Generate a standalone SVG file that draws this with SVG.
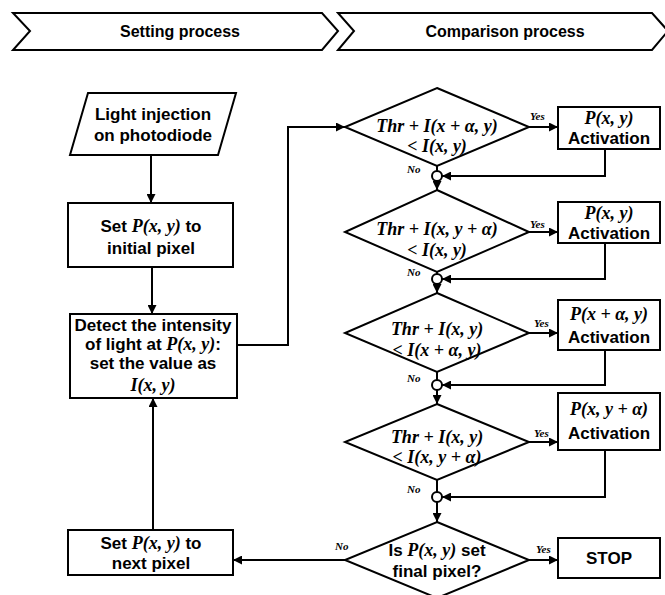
<svg xmlns="http://www.w3.org/2000/svg" width="665" height="595" viewBox="0 0 665 595">
<style>
.sh{fill:#fff;stroke:#000;stroke-width:2}
.ln{fill:none;stroke:#000;stroke-width:2}
.t{font-family:"Liberation Sans",Arial,sans-serif;font-weight:bold;font-size:17px;fill:#000;text-anchor:middle}
.m{font-family:"Liberation Serif","Times New Roman",serif;font-style:italic;font-weight:bold;font-size:18px}
.dm{font-family:"Liberation Serif","Times New Roman",serif;font-style:italic;font-weight:bold;font-size:18px;fill:#000;text-anchor:middle}
.lb{font-family:"Liberation Serif","Times New Roman",serif;font-style:italic;font-weight:bold;font-size:11px;fill:#000}
.hd{font-family:"Liberation Sans",Arial,sans-serif;font-weight:bold;font-size:16px;fill:#000;text-anchor:middle}
</style>
<defs>
<marker id="ah" viewBox="0 0 10 10" refX="10" refY="5" markerWidth="4.5" markerHeight="4.5" orient="auto" markerUnits="strokeWidth">
<path d="M0,0 L10,5 L0,10 z" fill="#000"/>
</marker>
</defs>

<g id="header">
<polygon class="sh" points="13,13 322,13 338,31 322,50 13,50 30,31"/>
<text class="hd" x="180" y="37">Setting process</text>
<polygon class="sh" points="338,13 652,13 668,31 652,50 338,50 354,31"/>
<text class="hd" x="505" y="37">Comparison process</text>
</g>

<g id="connectors">
<path class="ln" marker-end="url(#ah)" d="M151,155 V203"/>
<path class="ln" marker-end="url(#ah)" d="M152,267 V314"/>
<path class="ln" marker-end="url(#ah)" d="M237,345 H288 V127 H345"/>
<path class="ln" marker-end="url(#ah)" d="M153,530 V398"/>
<path class="ln" marker-end="url(#ah)" d="M529,127 H558"/>
<path class="ln" marker-end="url(#ah)" d="M529,232 H558"/>
<path class="ln" marker-end="url(#ah)" d="M529,333 H558"/>
<path class="ln" marker-end="url(#ah)" d="M529,442 H558"/>
<path class="ln" marker-end="url(#ah)" d="M529,560 H558"/>
<path class="ln" marker-end="url(#ah)" d="M345,560 H233"/>
<path class="ln" marker-end="url(#ah)" d="M605,149 V176 H442"/>
<path class="ln" marker-end="url(#ah)" d="M605,243 V279 H442"/>
<path class="ln" marker-end="url(#ah)" d="M605,350 V385 H442"/>
<path class="ln" marker-end="url(#ah)" d="M605,450 V497 H442"/>
<path class="ln" d="M437,166 V171"/>
<path class="ln" marker-end="url(#ah)" d="M437,181 V190"/>
<path class="ln" d="M437,272 V274"/>
<path class="ln" marker-end="url(#ah)" d="M437,284 V293"/>
<path class="ln" d="M437,372 V380"/>
<path class="ln" marker-end="url(#ah)" d="M437,390 V404"/>
<path class="ln" d="M437,480 V492"/>
<path class="ln" marker-end="url(#ah)" d="M437,502 V522"/>
<circle class="sh" cx="437" cy="176" r="5"/>
<circle class="sh" cx="437" cy="279" r="5"/>
<circle class="sh" cx="437" cy="385" r="5"/>
<circle class="sh" cx="437" cy="497" r="5"/>
<text class="lb" x="530" y="120">Yes</text>
<text class="lb" x="530" y="228">Yes</text>
<text class="lb" x="534" y="327">Yes</text>
<text class="lb" x="534" y="437">Yes</text>
<text class="lb" x="536" y="553">Yes</text>
<text class="lb" x="407" y="173">No</text>
<text class="lb" x="407" y="276">No</text>
<text class="lb" x="407" y="382">No</text>
<text class="lb" x="407" y="493">No</text>
<text class="lb" x="335" y="550">No</text>
</g>

<g id="n-light">
<polygon class="sh" points="88,93 236,93 218,155 70,155"/>
<text class="t" x="153" y="120">Light injection</text>
<text class="t" x="153" y="141">on photodiode</text>
</g>

<g id="n-initial">
<rect class="sh" x="68" y="203" width="165" height="64"/>
<text class="t" x="151" y="232">Set <tspan class="m">P(x, y)</tspan> to</text>
<text class="t" x="151" y="254">initial pixel</text>
</g>

<g id="n-detect">
<rect class="sh" x="70" y="314" width="167" height="84"/>
<text class="t" x="153" y="331">Detect the intensity</text>
<text class="t" x="153" y="350">of light at <tspan class="m">P(x, y)</tspan>:</text>
<text class="t" x="153" y="369">set the value as</text>
<text class="t" x="153" y="391"><tspan class="m">I(x, y)</tspan></text>
</g>

<g id="n-next">
<rect class="sh" x="68" y="530" width="165" height="45"/>
<text class="t" x="151" y="549">Set <tspan class="m">P(x, y)</tspan> to</text>
<text class="t" x="151" y="569">next pixel</text>
</g>

<g id="d1">
<polygon class="sh" points="437,88 529,127 437,166 345,127"/>
<text class="dm" x="437" y="132">Thr + I(x + α, y)</text>
<text class="dm" x="437" y="152">&lt; I(x, y)</text>
</g>
<g id="b1">
<rect class="sh" x="558" y="107" width="102" height="42"/>
<text class="t" x="609" y="124"><tspan class="m">P(x, y)</tspan></text>
<text class="t" x="609" y="144">Activation</text>
</g>

<g id="d2">
<polygon class="sh" points="437,190 529,232 437,272 345,232"/>
<text class="dm" x="437" y="235">Thr + I(x, y + α)</text>
<text class="dm" x="437" y="256">&lt; I(x, y)</text>
</g>
<g id="b2">
<rect class="sh" x="558" y="202" width="102" height="41"/>
<text class="t" x="609" y="219"><tspan class="m">P(x, y)</tspan></text>
<text class="t" x="609" y="239">Activation</text>
</g>

<g id="d3">
<polygon class="sh" points="437,293 529,333 437,372 345,333"/>
<text class="dm" x="437" y="335">Thr + I(x, y)</text>
<text class="dm" x="437" y="356">&lt; I(x + α, y)</text>
</g>
<g id="b3">
<rect class="sh" x="558" y="300" width="102" height="50"/>
<text class="t" x="609" y="320"><tspan class="m">P(x + α, y)</tspan></text>
<text class="t" x="609" y="343">Activation</text>
</g>

<g id="d4">
<polygon class="sh" points="437,404 529,442 437,480 345,442"/>
<text class="dm" x="437" y="443">Thr + I(x, y)</text>
<text class="dm" x="437" y="463">&lt; I(x, y + α)</text>
</g>
<g id="b4">
<rect class="sh" x="558" y="393" width="102" height="57"/>
<text class="t" x="609" y="415"><tspan class="m">P(x, y + α)</tspan></text>
<text class="t" x="609" y="439">Activation</text>
</g>

<g id="d5">
<polygon class="sh" points="437,522 529,560 437,598 345,560"/>
<text class="t" x="437" y="556">Is <tspan class="m">P(x, y)</tspan> set</text>
<text class="t" x="437" y="577">final pixel?</text>
</g>
<g id="b5">
<rect class="sh" x="558" y="538" width="102" height="40"/>
<text class="t" x="609" y="564">STOP</text>
</g>
</svg>
